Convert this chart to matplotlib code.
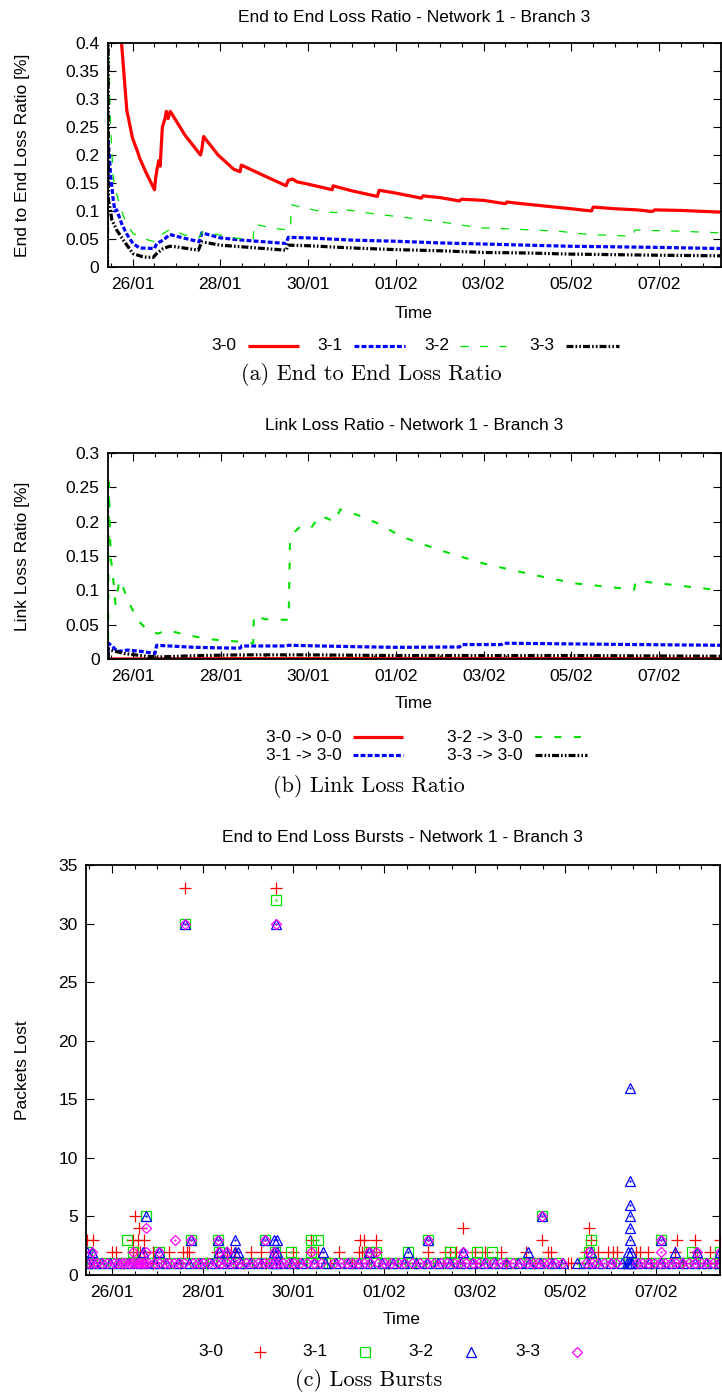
import numpy as np
import matplotlib
matplotlib.use("Agg")
import matplotlib.pyplot as plt
import matplotlib.dates as mdates
import matplotlib.ticker as mticker
from matplotlib.lines import Line2D
import datetime as dt

plt.rcParams['font.family'] = ['Liberation Sans', 'DejaVu Sans']
plt.rcParams['lines.scale_dashes'] = False

W, H = 722, 1395
FS = 12.5

# time in days relative to 26/01 00:00
base = mdates.date2num(dt.datetime(2014, 1, 26))
xlim = (-0.57, 13.40)
major_days = [0, 2, 4, 6, 8, 10, 12]

# ---- (a) end to end loss ratio [%]
e2e_30_t = [-0.57, -0.40, -0.25, -0.13, 0.0, 0.12, 0.16, 0.30, 0.50, 0.53, 0.56, 0.60, 0.63, 0.68, 0.74, 0.77,
            0.81, 0.86, 1.20, 1.55, 1.58, 1.62, 1.95, 2.30, 2.45, 2.48, 3.00, 3.50, 3.55, 3.65, 3.75, 4.00,
            4.55, 4.57, 5.00, 5.58, 5.62, 6.00, 6.58, 6.62, 7.00, 7.45, 7.50, 8.00, 8.50, 8.53, 9.00, 9.50,
            10.00, 10.46, 10.50, 11.00, 11.50, 11.85, 11.90, 12.50, 13.40]
e2e_30_v = [0.80, 0.52, 0.40, 0.28, 0.23, 0.205, 0.195, 0.17, 0.138, 0.16, 0.175, 0.19, 0.18, 0.25, 0.265, 0.278,
            0.265, 0.278, 0.235, 0.200, 0.210, 0.233, 0.200, 0.175, 0.170, 0.182, 0.163, 0.145, 0.155, 0.157, 0.152, 0.148,
            0.138, 0.145, 0.136, 0.126, 0.137, 0.132, 0.123, 0.127, 0.124, 0.118, 0.121, 0.119, 0.113, 0.116, 0.112, 0.108,
            0.104, 0.100, 0.107, 0.104, 0.102, 0.099, 0.102, 0.101, 0.098]
e2e_31_t = [-0.57, -0.53, -0.50, -0.44, -0.40, -0.36, -0.25, -0.14, 0.01, 0.16, 0.50, 0.55, 0.70, 0.85, 1.00,
            1.52, 1.58, 2.00, 2.50, 3.50, 3.55, 4.00, 5.00, 6.00, 7.00, 8.00, 9.00, 10.00, 11.00, 12.00, 13.40]
e2e_31_v = [0.24, 0.20, 0.165, 0.12, 0.100, 0.102, 0.078, 0.060, 0.042, 0.034, 0.033, 0.042, 0.048, 0.058, 0.055,
            0.045, 0.061, 0.052, 0.048, 0.042, 0.053, 0.052, 0.048, 0.046, 0.043, 0.041, 0.039, 0.037, 0.036, 0.035, 0.033]
e2e_32_t = [-0.57, -0.565, -0.55, -0.50, -0.44, -0.40, -0.29, -0.14, 0.01, 0.24, 0.50, 0.58, 0.85, 1.20, 1.52,
            1.60, 2.40, 2.75, 2.77, 3.20, 3.60, 3.62, 4.30, 4.65, 4.70, 5.50, 7.00, 7.90, 8.60, 9.70, 10.40,
            11.40, 11.45, 12.45, 13.40]
e2e_32_v = [0.0, 0.50, 0.40, 0.25, 0.16, 0.145, 0.108, 0.078, 0.060, 0.051, 0.045, 0.054, 0.067, 0.057, 0.053,
            0.063, 0.051, 0.050, 0.077, 0.069, 0.066, 0.111, 0.099, 0.097, 0.104, 0.095, 0.081, 0.070, 0.068, 0.064, 0.058,
            0.055, 0.066, 0.064, 0.061]
e2e_33_t = [-0.57, -0.565, -0.55, -0.50, -0.47, -0.36, -0.21, 0.01, 0.24, 0.47, 0.55, 0.70, 0.85, 1.00, 1.50,
            1.58, 2.00, 2.50, 3.50, 3.55, 4.00, 5.00, 6.00, 7.00, 8.00, 9.00, 10.00, 11.00, 12.00, 13.40]
e2e_33_v = [0.0, 0.60, 0.12, 0.10, 0.084, 0.066, 0.048, 0.024, 0.018, 0.017, 0.024, 0.033, 0.037, 0.036, 0.030,
            0.045, 0.039, 0.036, 0.030, 0.039, 0.038, 0.034, 0.031, 0.029, 0.026, 0.025, 0.023, 0.022, 0.021, 0.020]

# ---- (b) link loss ratio [%]
lnk_30_t = [-0.57, 2.0, 6.0, 10.0, 13.40]
lnk_30_v = [0.0, 0.0005, 0.0007, 0.0006, 0.0006]
lnk_31_t = [-0.57, -0.56, -0.50, -0.35, -0.12, 0.20, 0.50, 0.54, 1.40, 2.15, 2.45, 2.48, 3.50, 3.55, 5.00, 6.00,
            7.45, 7.50, 8.40, 8.45, 10.00, 11.50, 13.40]
lnk_31_v = [0.0, 0.023, 0.020, 0.011, 0.013, 0.011, 0.008, 0.020, 0.017, 0.016, 0.016, 0.019, 0.019, 0.020, 0.018, 0.017,
            0.0175, 0.021, 0.021, 0.023, 0.022, 0.021, 0.020]
lnk_32_t = [-0.57, -0.565, -0.55, -0.53, -0.51, -0.44, -0.40, -0.31, -0.23, -0.12, 0.10, 0.33, 0.56, 0.79, 1.09,
            1.70, 2.45, 2.74, 2.76, 3.00, 3.55, 3.58, 3.65, 3.82, 4.05, 4.27, 4.60, 4.73, 5.20, 5.60, 6.13,
            6.97, 8.00, 9.17, 10.10, 11.43, 11.47, 13.40]
lnk_32_v = [0.0, 0.05, 0.257, 0.20, 0.15, 0.11, 0.08, 0.115, 0.105, 0.086, 0.057, 0.042, 0.037, 0.042, 0.037,
            0.029, 0.025, 0.023, 0.064, 0.058, 0.057, 0.168, 0.183, 0.193, 0.190, 0.209, 0.200, 0.218, 0.208, 0.197, 0.178,
            0.159, 0.139, 0.122, 0.110, 0.101, 0.114, 0.100]
lnk_33_t = [-0.57, -0.56, -0.45, -0.20, 0.30, 0.60, 1.50, 2.50, 4.00, 6.00, 10.00, 13.40]
lnk_33_v = [0.0, 0.014, 0.012, 0.008, 0.004, 0.003, 0.005, 0.006, 0.006, 0.005, 0.005, 0.004]

# ---- (c) loss bursts: packets lost -> times (days)
burst_30 = {
    33: [1.62, 3.63],
    5: [0.50],
    4: [0.60, 7.75, 10.53],
    3: [-0.55, -0.42, 0.47, 0.58, 0.70, 4.40, 5.47, 5.57, 5.83, 9.48, 10.56, 12.46, 12.87, 13.40],
    2: [0.00, 0.10, 0.47, 0.55, 0.62, 0.70, 0.90, 1.25, 1.58, 1.66, 1.70, 2.32, 2.55, 2.62, 2.72, 3.07, 3.30,
        3.55, 3.70, 4.00, 4.40, 4.55, 5.00, 5.45, 5.52, 5.60, 5.83, 6.97, 7.35, 7.45, 7.60, 8.00, 8.22, 8.58,
        9.14, 9.62, 9.68, 10.45, 10.73, 10.95, 11.06, 11.14, 11.55, 11.65, 11.82, 12.42, 12.87, 13.20],
    1: [-0.50, 0.20, 0.90, 1.50, 2.10, 2.90, 3.40, 4.10, 4.80, 5.30, 6.10, 6.70, 7.30, 8.00, 8.70, 9.30, 10.05,
        10.12, 10.30, 11.30, 11.90, 12.60, 13.30],
}
burst_31 = {
    32: [3.63],
    30: [1.62],
    5: [0.75, 9.48],
    3: [0.33, 1.75, 2.33, 3.38, 4.40, 4.55, 6.98, 10.56, 12.11],
    2: [-0.55, 0.47, 1.03, 2.36, 3.60, 3.95, 4.40, 5.67, 5.83, 6.54, 7.45, 8.05, 8.38, 10.52, 12.79, 13.41],
    1: [-0.55, -0.43, -0.31, -0.16, 0.02, 0.21, 0.38, 0.61, 0.79, 1.02, 1.19, 1.42, 1.61, 1.83, 2.01, 2.18, 2.43,
        2.61, 2.79, 3.02, 3.21, 3.39, 3.58, 3.81, 4.02, 4.18, 4.41, 4.63, 4.79, 5.01, 5.22, 5.38, 5.61, 5.79,
        6.02, 6.21, 6.39, 6.58, 6.81, 7.02, 7.19, 7.41, 7.62, 7.79, 8.01, 8.22, 8.39, 8.61, 8.79, 9.02, 9.21,
        9.38, 9.61, 9.79, 10.42, 10.61, 10.78, 11.01, 11.18, 11.47, 11.66, 11.84, 12.06, 12.24, 12.46, 12.63,
        12.86, 13.04, 13.23, 13.39],
}
burst_32 = {
    30: [1.62, 3.63],
    16: [11.42],
    8: [11.42],
    6: [11.42],
    5: [0.75, 9.48, 11.42],
    4: [11.42],
    3: [1.75, 2.33, 2.72, 3.38, 3.58, 3.65, 6.98, 11.42, 12.11],
    2: [-0.55, -0.44, 0.68, 1.03, 2.36, 2.51, 2.72, 2.78, 3.58, 3.65, 4.65, 5.67, 6.54, 7.75, 9.17, 10.56,
        11.38, 11.45, 12.42, 12.90, 13.41],
    1: [-0.52, -0.40, -0.25, -0.05, 0.15, 0.35, 0.55, 0.72, 0.95, 1.20, 1.45, 1.70, 1.95, 2.20, 2.45, 2.65, 2.85,
        3.05, 3.30, 3.55, 3.62, 3.70, 3.95, 4.20, 4.45, 4.70, 4.95, 5.20, 5.45, 5.70, 5.95, 6.20, 6.45, 6.70,
        6.95, 7.20, 7.45, 7.70, 7.95, 8.20, 8.45, 8.70, 8.95, 9.20, 9.45, 9.70, 9.95, 10.25, 10.50, 10.75,
        11.00, 11.25, 11.36, 11.40, 11.44, 11.48, 11.60, 11.85, 12.10, 12.35, 12.60, 12.85, 13.10, 13.38],
}
burst_33 = {
    30: [1.62, 3.63],
    5: [9.48],
    4: [0.75],
    3: [1.39, 1.75, 2.33, 3.38, 6.98, 12.11],
    2: [-0.44, 0.47, 0.75, 1.03, 2.36, 2.55, 3.58, 4.40, 5.67, 5.83, 7.75, 10.52, 12.11, 12.90, 13.41],
    1: [-0.50, -0.42, -0.33, -0.22, -0.10, 0.05, 0.14, 0.22, 0.30, 0.38, 0.45, 0.52, 0.58, 0.63, 0.69, 0.74,
        0.80, 0.92, 1.05, 1.18, 1.27, 1.36, 1.48, 1.60, 1.78, 1.90, 2.02, 2.15, 2.30, 2.41, 2.55, 2.68, 2.80,
        2.95, 3.10, 3.22, 3.35, 3.47, 3.58, 3.66, 3.78, 3.90, 4.02, 4.15, 4.30, 4.45, 4.62, 4.90, 5.05, 5.18,
        5.30, 5.42, 5.55, 5.70, 5.86, 6.00, 6.15, 6.30, 6.45, 6.62, 6.80, 6.95, 7.10, 7.25, 7.40, 7.55, 7.68,
        7.82, 7.96, 8.10, 8.25, 8.40, 8.55, 8.70, 8.85, 9.00, 9.15, 9.28, 9.40, 9.52, 9.65, 9.78, 9.92, 10.45,
        10.58, 10.70, 10.85, 11.00, 11.12, 11.58, 11.70, 11.82, 11.95, 12.08, 12.20, 12.32, 12.45, 12.58, 12.72,
        12.86, 13.00, 13.12, 13.25, 13.38],
}

RED, GREEN, BLUE, MAG = '#ff0000', '#00e000', '#0000ff', '#ff00ff'


def box(l, r, t, b):
    return [l / W, 1 - b / H, (r - l) / W, (b - t) / H]


def fx(x):
    return x / W


def fy(y):
    return 1 - y / H


def days(v):
    return base + np.asarray(v, dtype=float)


def style_axes(ax, ymax, ystep):
    ax.set_xlim(base + xlim[0], base + xlim[1])
    ax.set_ylim(0, ymax)
    ax.xaxis.set_major_locator(mticker.FixedLocator(days(major_days)))
    ax.xaxis.set_minor_locator(mticker.MultipleLocator(0.5))
    ax.xaxis.set_major_formatter(mdates.DateFormatter('%d/%m'))
    ax.yaxis.set_major_locator(mticker.MultipleLocator(ystep))
    ax.yaxis.set_major_formatter(mticker.FormatStrFormatter('%g'))
    ax.tick_params(which='both', direction='in', top=True, right=True, labelsize=FS, width=0.8)
    ax.tick_params(which='major', length=5.5)
    ax.tick_params(which='minor', length=3)
    ax.tick_params(axis='x', pad=7)
    ax.tick_params(axis='y', pad=6)
    for s in ax.spines.values():
        s.set_linewidth(1.3)


fig = plt.figure(figsize=(W / 100, H / 100), dpi=100)

sty = {
    '30': dict(color=RED, lw=2.3, solid_capstyle='butt'),
    '31': dict(color=BLUE, lw=2.3, dashes=(3.5, 1.6)),
    '32a': dict(color=GREEN, lw=0.9, dashes=(6, 8)),
    '32b': dict(color=GREEN, lw=1.5, dashes=(5, 9)),
    '33': dict(color='black', lw=2.3, dashes=(5, 1.5, 1.2, 1.5, 1.2, 1.5)),
}

# ---------------- panel (a)
ax1 = fig.add_axes(box(107.5, 720.5, 43, 267))
ax1.plot(days(e2e_30_t), e2e_30_v, **sty['30'])
ax1.plot(days(e2e_31_t), e2e_31_v, **sty['31'])
ax1.plot(days(e2e_32_t), e2e_32_v, **sty['32a'])
ax1.plot(days(e2e_33_t), e2e_33_v, **sty['33'])
style_axes(ax1, 0.4, 0.05)
fig.text(fx(414), fy(17), 'End to End Loss Ratio - Network 1 - Branch 3', ha='center', va='center', fontsize=FS)
fig.text(fx(23), fy(155), 'End to End Loss Ratio [%]', rotation=90, ha='center', va='center', fontsize=FS)
fig.text(fx(414), fy(313), 'Time', ha='center', va='center', fontsize=FS)

for lab, x_txt, x0, x1, key in [('3-0', 236.5, 248, 299, '30'), ('3-1', 342, 354, 405, '31'),
                                 ('3-2', 449, 460, 506, '32a'), ('3-3', 554.5, 566, 619, '33')]:
    fig.text(fx(x_txt), fy(346), lab, ha='right', va='center', fontsize=FS)
    fig.add_artist(Line2D([fx(x0), fx(x1)], [fy(346), fy(346)], transform=fig.transFigure, **sty[key]))
fig.text(fx(371), fy(375), '(a) End to End Loss Ratio', ha='center', va='center', fontsize=16, family='cmr10')

# ---------------- panel (b)
ax2 = fig.add_axes(box(108, 720.5, 453, 659))
ax2.plot(days(lnk_30_t), lnk_30_v, **sty['30'])
ax2.plot(days(lnk_31_t), lnk_31_v, **sty['31'])
ax2.plot(days(lnk_32_t), lnk_32_v, **sty['32b'])
ax2.plot(days(lnk_33_t), lnk_33_v, **sty['33'])
style_axes(ax2, 0.3, 0.05)
fig.text(fx(414), fy(425), 'Link Loss Ratio - Network 1 - Branch 3', ha='center', va='center', fontsize=FS)
fig.text(fx(23), fy(556), 'Link Loss Ratio [%]', rotation=90, ha='center', va='center', fontsize=FS)
fig.text(fx(414), fy(703), 'Time', ha='center', va='center', fontsize=FS)

for lab, x_txt, x0, x1, y, key in [('3-0 -> 0-0', 342, 353, 403, 737, '30'), ('3-1 -> 3-0', 342, 353, 403, 755, '31'),
                                    ('3-2 -> 3-0', 523, 535, 587, 737, '32b'), ('3-3 -> 3-0', 523, 535, 587, 755, '33')]:
    fig.text(fx(x_txt), fy(y), lab, ha='right', va='center', fontsize=FS)
    fig.add_artist(Line2D([fx(x0), fx(x1)], [fy(y), fy(y)], transform=fig.transFigure, **sty[key]))
fig.text(fx(369), fy(787), '(b) Link Loss Ratio', ha='center', va='center', fontsize=16, family='cmr10')

# ---------------- panel (c)
ax3 = fig.add_axes(box(86, 719.5, 865, 1275))
mk = [
    (burst_30, dict(marker='+', ms=8.5, mew=0.9, color=RED, mfc='none')),
    (burst_31, dict(marker='s', ms=6.5, mew=0.9, color=GREEN, mfc='none')),
    (burst_32, dict(marker='^', ms=6.8, mew=0.9, color=BLUE, mfc='none')),
    (burst_33, dict(marker='D', ms=5.0, mew=0.9, color=MAG, mfc='none')),
]
for series, kw in mk:
    for lost, tt in series.items():
        ax3.plot(days(tt), [lost] * len(tt), ls='none', **kw)
        if kw['marker'] != '+':
            ax3.plot(days(tt), [lost] * len(tt), ls='none', marker='.', ms=1.2, color=kw['color'])
style_axes(ax3, 35, 5)
fig.text(fx(402), fy(838), 'End to End Loss Bursts - Network 1 - Branch 3', ha='center', va='center', fontsize=FS)
fig.text(fx(23), fy(1070), 'Packets Lost', rotation=90, ha='center', va='center', fontsize=FS)
fig.text(fx(402), fy(1320), 'Time', ha='center', va='center', fontsize=FS)

for lab, x_txt, xm, (series, kw) in zip(['3-0', '3-1', '3-2', '3-3'], [223, 327, 433, 540],
                                        [260, 365, 471, 577], mk):
    fig.text(fx(x_txt), fy(1352), lab, ha='right', va='center', fontsize=FS)
    fig.add_artist(Line2D([fx(xm)], [fy(1352)], transform=fig.transFigure, ls='none', **kw))
fig.text(fx(369), fy(1380), '(c) Loss Bursts', ha='center', va='center', fontsize=16, family='cmr10')

fig.savefig('out.png', dpi=100)
